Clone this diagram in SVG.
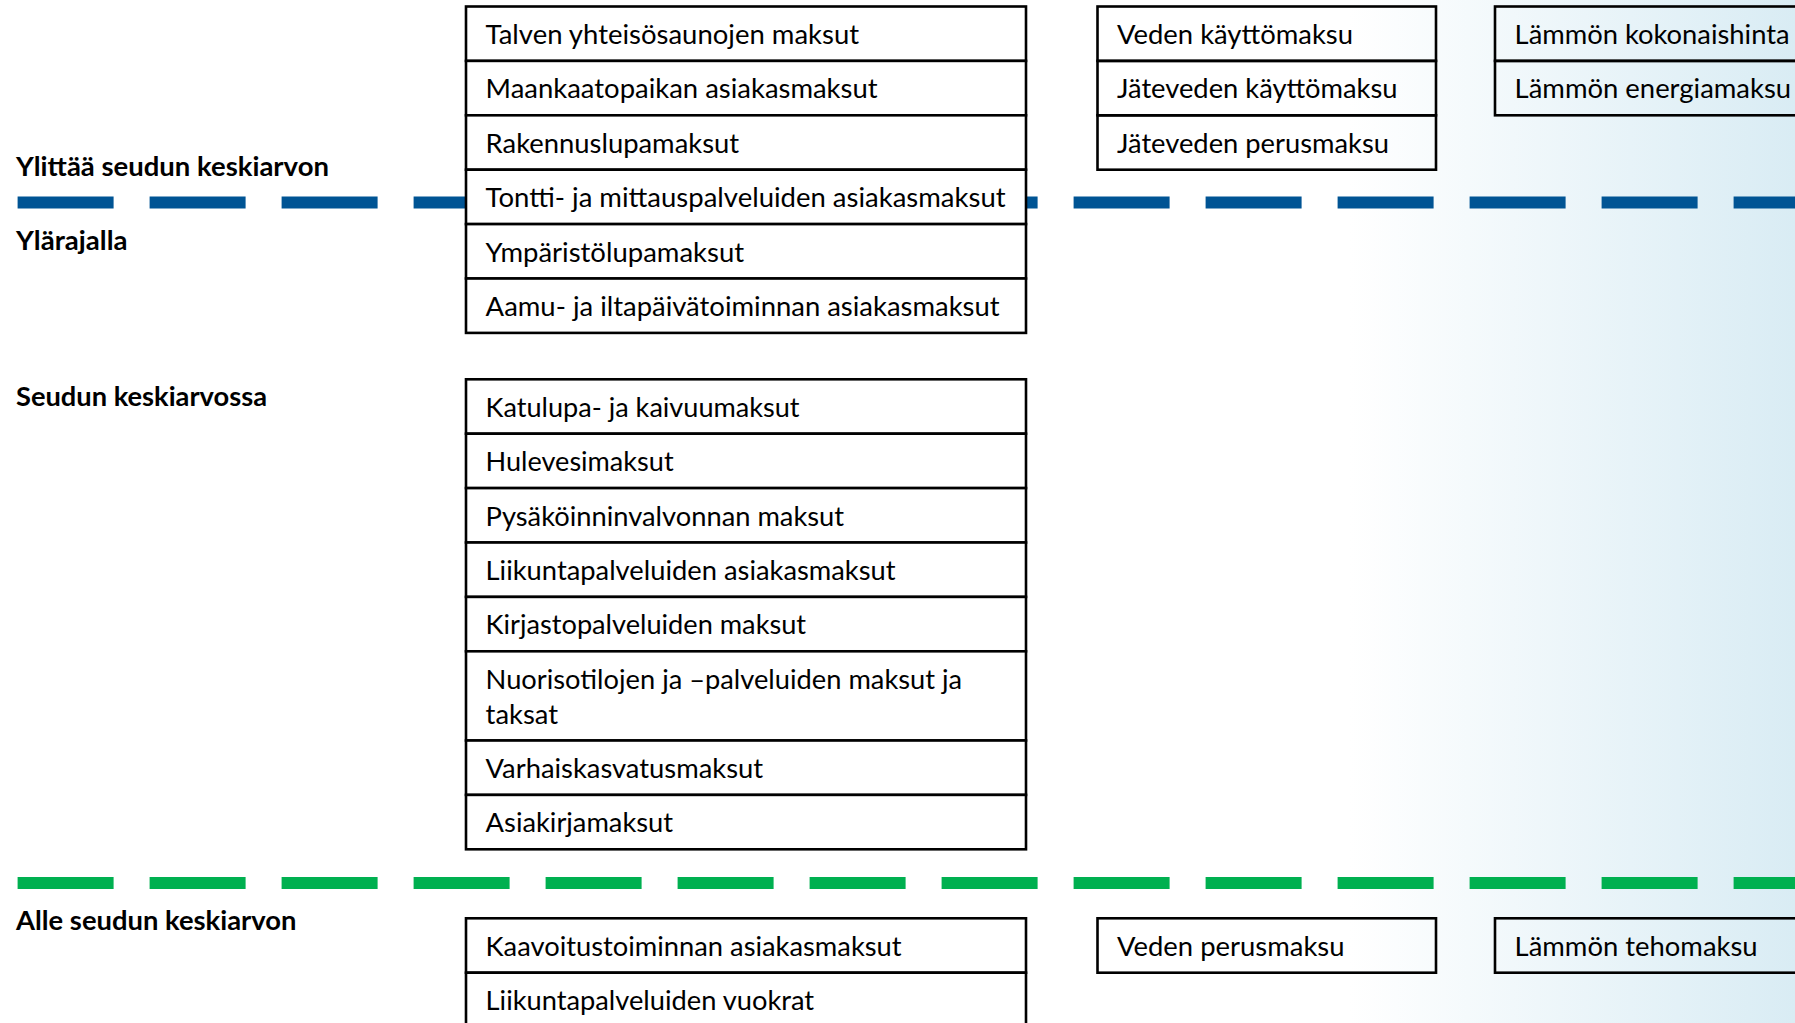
<svg xmlns="http://www.w3.org/2000/svg" width="1795" height="1023" viewBox="0 0 1795 1023">
<defs>
<linearGradient id="bg" x1="0" y1="0" x2="1795" y2="0" gradientUnits="userSpaceOnUse">
<stop offset="0" stop-color="#ffffff"/>
<stop offset="0.752" stop-color="#ffffff"/>
<stop offset="1" stop-color="#d9ecf4"/>
</linearGradient>
<style>
.cell{fill:#ffffff;stroke:#000000;stroke-width:2.6}
.cellT{fill:none;stroke:#000000;stroke-width:2.6}
.t{font-family:Lato,"Liberation Sans",sans-serif;font-size:27.5px;fill:#000000}
.lbl{font-family:Lato,"Liberation Sans",sans-serif;font-size:27.5px;font-weight:bold;fill:#000000}
.dash{stroke-width:12;stroke-dasharray:96 36;fill:none}
</style>
</defs>
<rect x="0" y="0" width="1795" height="1023" fill="url(#bg)"/>

<g id="labels">
<text class="lbl" x="16" y="176.2" textLength="313" lengthAdjust="spacingAndGlyphs">Ylittää seudun keskiarvon</text>
<text class="lbl" x="16" y="249.8" textLength="111.5" lengthAdjust="spacingAndGlyphs">Ylärajalla</text>
<text class="lbl" x="16" y="405.5" textLength="251" lengthAdjust="spacingAndGlyphs">Seudun keskiarvossa</text>
<text class="lbl" x="16" y="929.5" textLength="280.5" lengthAdjust="spacingAndGlyphs">Alle seudun keskiarvon</text>
</g>

<g id="connectors">
<line class="dash" x1="17.6" y1="202.5" x2="1800" y2="202.5" stroke="#005494"/>
<line class="dash" x1="17.6" y1="883" x2="1800" y2="883" stroke="#00b050"/>
</g>

<g id="above-average">
<g id="talven"><rect class="cell" x="466" y="6.5" width="560" height="54.4"/><text class="t" x="485.6" y="44" textLength="373.5" lengthAdjust="spacingAndGlyphs">Talven yhteisösaunojen maksut</text></g>
<g id="maankaato"><rect class="cell" x="466" y="60.9" width="560" height="54.4"/><text class="t" x="485.6" y="98.4" textLength="392" lengthAdjust="spacingAndGlyphs">Maankaatopaikan asiakasmaksut</text></g>
<g id="rakennuslupa"><rect class="cell" x="466" y="115.3" width="560" height="54.4"/><text class="t" x="485.6" y="152.8" textLength="253.5" lengthAdjust="spacingAndGlyphs">Rakennuslupamaksut</text></g>
<g id="tontti"><rect class="cell" x="466" y="169.7" width="560" height="54.4"/><text class="t" x="485.6" y="207.2" textLength="520" lengthAdjust="spacingAndGlyphs">Tontti- ja mittauspalveluiden asiakasmaksut</text></g>
<g id="ymparistolupa"><rect class="cell" x="466" y="224.1" width="560" height="54.4"/><text class="t" x="485.6" y="261.6" textLength="258.5" lengthAdjust="spacingAndGlyphs">Ympäristölupamaksut</text></g>
<g id="aamu"><rect class="cell" x="466" y="278.5" width="560" height="54.4"/><text class="t" x="485.6" y="316" textLength="514" lengthAdjust="spacingAndGlyphs">Aamu- ja iltapäivätoiminnan asiakasmaksut</text></g>
</g>

<g id="average">
<g id="katulupa"><rect class="cell" x="466" y="379.3" width="560" height="54.4"/><text class="t" x="485.6" y="416.8" textLength="314" lengthAdjust="spacingAndGlyphs">Katulupa- ja kaivuumaksut</text></g>
<g id="hulevesi"><rect class="cell" x="466" y="433.7" width="560" height="54.4"/><text class="t" x="485.6" y="471.2" textLength="188" lengthAdjust="spacingAndGlyphs">Hulevesimaksut</text></g>
<g id="pysakointi"><rect class="cell" x="466" y="488.1" width="560" height="54.4"/><text class="t" x="485.6" y="525.6" textLength="358.5" lengthAdjust="spacingAndGlyphs">Pysäköinninvalvonnan maksut</text></g>
<g id="liikunta-asiakas"><rect class="cell" x="466" y="542.5" width="560" height="54.4"/><text class="t" x="485.6" y="580" textLength="410" lengthAdjust="spacingAndGlyphs">Liikuntapalveluiden asiakasmaksut</text></g>
<g id="kirjasto"><rect class="cell" x="466" y="596.9" width="560" height="54.4"/><text class="t" x="485.6" y="634.4" textLength="320.5" lengthAdjust="spacingAndGlyphs">Kirjastopalveluiden maksut</text></g>
<g id="nuoriso"><rect class="cell" x="466" y="651.3" width="560" height="89.2"/><text class="t" x="485.6" y="688.8" textLength="476.5" lengthAdjust="spacingAndGlyphs">Nuorisotilojen ja –palveluiden maksut ja</text><text class="t" x="485.6" y="724" textLength="72.5" lengthAdjust="spacingAndGlyphs">taksat</text></g>
<g id="varhaiskasvatus"><rect class="cell" x="466" y="740.5" width="560" height="54.4"/><text class="t" x="485.6" y="778" textLength="277.5" lengthAdjust="spacingAndGlyphs">Varhaiskasvatusmaksut</text></g>
<g id="asiakirja"><rect class="cell" x="466" y="794.9" width="560" height="54.4"/><text class="t" x="485.6" y="832.4" textLength="187.5" lengthAdjust="spacingAndGlyphs">Asiakirjamaksut</text></g>
</g>

<g id="below-average">
<g id="kaavoitus"><rect class="cell" x="466" y="918.3" width="560" height="54.4"/><text class="t" x="485.6" y="955.8" textLength="416" lengthAdjust="spacingAndGlyphs">Kaavoitustoiminnan asiakasmaksut</text></g>
<g id="liikunta-vuokrat"><rect class="cell" x="466" y="972.7" width="560" height="54.4"/><text class="t" x="485.6" y="1010.2" textLength="328.5" lengthAdjust="spacingAndGlyphs">Liikuntapalveluiden vuokrat</text></g>
</g>

<g id="water">
<g id="veden-kaytto"><rect class="cellT" x="1097.5" y="6.5" width="338.5" height="54.4"/><text class="t" x="1117" y="44" textLength="236" lengthAdjust="spacingAndGlyphs">Veden käyttömaksu</text></g>
<g id="jatevesi-kaytto"><rect class="cellT" x="1097.5" y="60.9" width="338.5" height="54.4"/><text class="t" x="1117" y="98.4" textLength="280.5" lengthAdjust="spacingAndGlyphs">Jäteveden käyttömaksu</text></g>
<g id="jatevesi-perus"><rect class="cellT" x="1097.5" y="115.3" width="338.5" height="54.4"/><text class="t" x="1117" y="152.8" textLength="272" lengthAdjust="spacingAndGlyphs">Jäteveden perusmaksu</text></g>
<g id="veden-perus"><rect class="cellT" x="1097.5" y="918.3" width="338.5" height="54.4"/><text class="t" x="1117" y="955.8" textLength="227.5" lengthAdjust="spacingAndGlyphs">Veden perusmaksu</text></g>
</g>

<g id="heat">
<g id="lammon-kokonais"><rect class="cellT" x="1495" y="6.5" width="340" height="54.4"/><text class="t" x="1514.6" y="44" textLength="275" lengthAdjust="spacingAndGlyphs">Lämmön kokonaishinta</text></g>
<g id="lammon-energia"><rect class="cellT" x="1495" y="60.9" width="340" height="54.4"/><text class="t" x="1514.6" y="98.4" textLength="276.5" lengthAdjust="spacingAndGlyphs">Lämmön energiamaksu</text></g>
<g id="lammon-teho"><rect class="cellT" x="1495" y="918.3" width="340" height="54.4"/><text class="t" x="1514.6" y="955.8" textLength="243" lengthAdjust="spacingAndGlyphs">Lämmön tehomaksu</text></g>
</g>
</svg>
